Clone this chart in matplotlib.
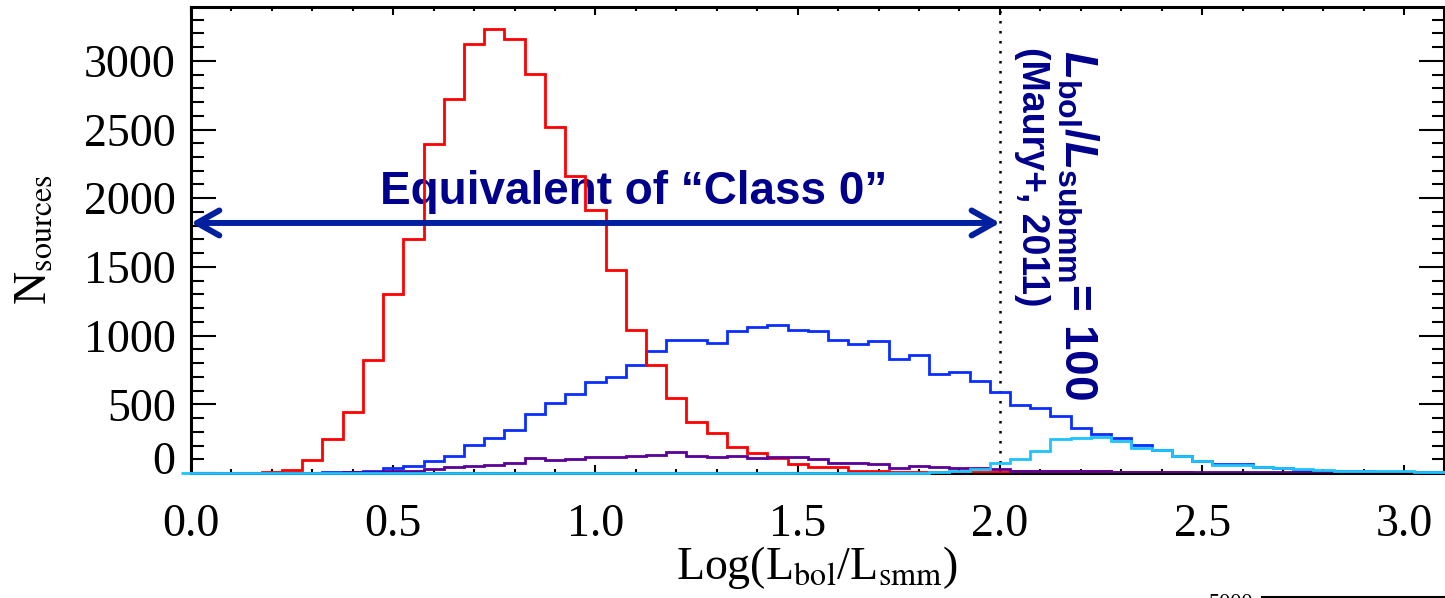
import numpy as np
import matplotlib
matplotlib.use('Agg')
from matplotlib import pyplot as plt
from matplotlib.lines import Line2D
from matplotlib.transforms import ScaledTranslation

plt.rcParams['font.family'] = ['Liberation Serif', 'DejaVu Serif']
plt.rcParams['mathtext.rm'] = 'Liberation Sans:bold'
plt.rcParams['mathtext.bf'] = 'Liberation Sans:bold'
plt.rcParams['mathtext.it'] = 'Liberation Sans:italic:bold'

# histogram bins (centres, width 0.05)
bin_width = 0.05
bin_centres = np.round(np.arange(0.0, 3.101, bin_width), 3)

red_counts = [0, 0, 0, 2, 10, 24, 92, 250, 444, 825,
              1300, 1705, 2397, 2724, 3125, 3229, 3161, 2902, 2518, 2159,
              1917, 1475, 1040, 785, 545, 370, 290, 191, 143, 112,
              63, 46, 45, 17, 12, 10, 8, 8, 7, 8,
              10, 12, 14, 15, 14, 12, 9, 7, 5, 4,
              3, 3, 2, 2, 1, 1, 0, 0, 0, 0,
              0, 0, 0]
blue_counts = [0, 0, 0, 0, 0, 2, 3, 5, 8, 17,
               34, 51, 87, 124, 205, 255, 314, 427, 508, 577,
               664, 696, 785, 886, 966, 969, 947, 1036, 1060, 1077,
               1041, 1033, 968, 937, 963, 830, 859, 718, 737, 670,
               586, 495, 475, 415, 330, 282, 257, 204, 167, 126,
               87, 68, 66, 46, 34, 22, 17, 15, 15, 10,
               8, 5, 4]
purple_counts = [0, 0, 0, 0, 0, 0, 0, 2, 5, 10,
                 17, 17, 27, 41, 52, 58, 76, 108, 93, 103,
                 115, 113, 127, 134, 150, 127, 115, 124, 111, 119,
                 114, 102, 75, 70, 65, 39, 53, 46, 39, 34,
                 27, 17, 15, 14, 13, 12, 10, 9, 8, 7,
                 7, 6, 6, 5, 5, 4, 4, 3, 3, 2,
                 2, 1, 1]
cyan_counts = [0, 0, 0, 0, 0, 0, 0, 0, 0, 0,
               0, 0, 0, 0, 0, 0, 1, 1, 1, 1,
               1, 1, 1, 1, 1, 1, 1, 1, 1, 1,
               1, 1, 1, 2, 2, 2, 2, 8, 15, 30,
               70, 99, 163, 250, 258, 262, 230, 182, 165, 122,
               85, 58, 58, 46, 39, 29, 22, 18, 16, 14,
               12, 8, 6]

xtick_vals = [0.0, 0.5, 1.0, 1.5, 2.0, 2.5, 3.0]
ytick_vals = [0, 500, 1000, 1500, 2000, 2500, 3000]

navy = '#00008C'

edges = np.append(bin_centres - bin_width / 2, bin_centres[-1] + bin_width / 2)

fig = plt.figure(figsize=(14.45, 5.98), dpi=100)
ax = fig.add_axes([191 / 1445, 1 - 473 / 598, 1253 / 1445, 466 / 598])

ax.stairs(blue_counts, edges, color='#0A2EFF', lw=2.0, zorder=3)
ax.stairs(red_counts, edges, color='#FF0000', lw=2.0, zorder=4)
ax.stairs(purple_counts, edges, color='#5A0096', lw=2.0, zorder=5)
ax.stairs(cyan_counts, edges, color='#1EC3FF', lw=2.0, zorder=6, clip_on=False)

ax.axvline(2.0, color='black', lw=1.8, ls=(0, (1, 3)), zorder=2)

ax.annotate('', xy=(0.0, 1820), xytext=(2.0, 1820),
            arrowprops=dict(arrowstyle='<->,head_length=0.8,head_width=0.45',
                            lw=4.3, color='#0020A0', shrinkA=0, shrinkB=0,
                            mutation_scale=20),
            zorder=7)
ax.text(1.095, 1958, 'Equivalent of \u201cClass 0\u201d', ha='center', va='baseline',
        fontsize=33, fontweight='bold', family='Liberation Sans', color=navy)

ax.text(2.19, 3079, r'$\mathit{L}_{\mathrm{bol}}/\mathit{L}_{\mathrm{submm}}$= 100',
        rotation=-90, ha='center', va='top', fontsize=33, fontweight='bold',
        family='Liberation Sans', color=navy, math_fontfamily='custom')
ax.text(2.08, 3100, '(Maury+, 2011)', rotation=-90, ha='center', va='top',
        fontsize=27, fontweight='bold', family='Liberation Sans', color=navy)

ax.set_xlim(0, 3.098)
ax.set_ylim(0, 3392)
ax.set_xticks(xtick_vals)
ax.set_xticklabels(['%.1f' % v for v in xtick_vals])
ax.set_xticks(np.arange(0, 3.1, 0.1), minor=True)
ax.set_yticks(ytick_vals)
ax.set_yticks(np.arange(0, 3400, 100), minor=True)

ax.tick_params(which='both', direction='in', top=True, right=True, width=1.5, labelsize=33)
ax.tick_params(axis='x', which='major', length=6, pad=22)
ax.tick_params(axis='x', which='minor', length=3)
ax.tick_params(axis='y', which='major', length=18, pad=11)
ax.tick_params(axis='y', which='minor', length=9)
for sp in ax.spines.values():
    sp.set_linewidth(2.2)

# IDL lifts the bottom label
lab0 = ax.yaxis.get_major_ticks()[0].label1
lab0.set_transform(lab0.get_transform() + ScaledTranslation(0, 0.15, fig.dpi_scale_trans))

fig.text(817 / 1445, 1 - 544 / 598, r'Log(L$_{\mathrm{bol}}$/L$_{\mathrm{smm}}$)',
         ha='center', va='top', fontsize=33, math_fontfamily='stix')
fig.text(13 / 1445, 0.5 * (1 - 7 / 598 + 1 - 473 / 598), r'N$_{\mathrm{sources}}$',
         rotation=90, ha='left', va='center', fontsize=33, math_fontfamily='stix')

# piece of the panel below
fig.text(1253 / 1445, 1 - 594 / 598, '5000', ha='right', va='top', fontsize=16)
fig.add_artist(Line2D([1262 / 1445, 1.0], [1 - 597 / 598] * 2, color='black', lw=1.5))

fig.savefig('out.png', dpi=100)
